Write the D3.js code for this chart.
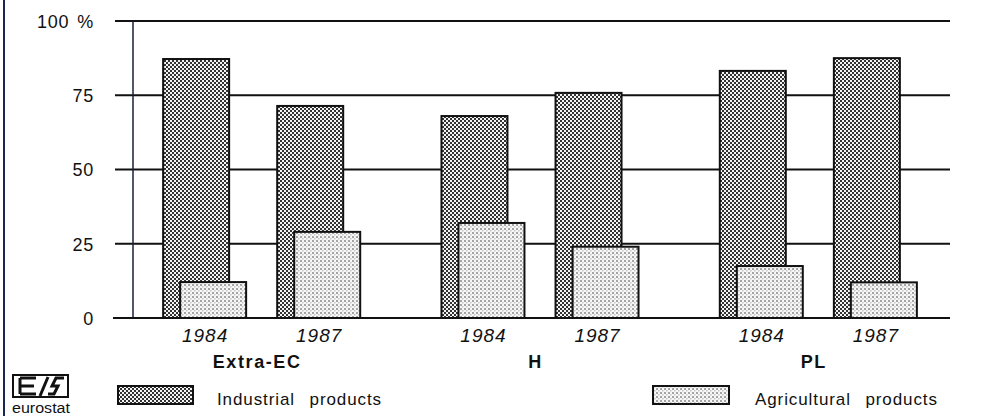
<!DOCTYPE html>
<html><head><meta charset="utf-8">
<script src="https://cdn.jsdelivr.net/npm/d3@7/dist/d3.min.js"></script>
<style>body{margin:0;background:#fff}svg{display:block}</style>
</head><body><svg id="c" width="987" height="416"></svg>
<script>
const groups = ["Extra-EC", "H", "PL"];
const years = ["1984", "1987"];
const industrial = [[87.2, 71.4], [68.0, 75.8], [83.2, 87.5]];
const agricultural = [[12.1, 29.0], [32.0, 24.0], [17.5, 12.0]];
const yTicks = [0, 25, 50, 75, 100];
const yTickLabels = ["0", "25", "50", "75", "100 %"];
const seriesNames = ["Industrial products", "Agricultural products"];

const svg = d3.select("#c");
const defs = svg.append("defs");
const p1 = defs.append("pattern").attr("id","pInd").attr("patternUnits","userSpaceOnUse").attr("width",4).attr("height",4);
p1.append("rect").attr("width",4).attr("height",4).attr("fill","#f4f4f4");
p1.append("rect").attr("x",0).attr("y",0).attr("width",2).attr("height",2).attr("fill","#333");
p1.append("rect").attr("x",2).attr("y",2).attr("width",2).attr("height",2).attr("fill","#333");
const p2 = defs.append("pattern").attr("id","pAgr").attr("patternUnits","userSpaceOnUse").attr("width",4).attr("height",4);
p2.append("rect").attr("width",4).attr("height",4).attr("fill","#f7f7f7");
p2.append("rect").attr("x",0).attr("y",0).attr("width",2).attr("height",2).attr("fill","#a4a4a4");
p2.append("rect").attr("x",2).attr("y",2).attr("width",1.5).attr("height",1.5).attr("fill","#c4c4c4");

const y = d3.scaleLinear().domain([0,100]).range([318,21]);
const x0 = d3.scaleBand().domain(groups).range([122,957]);
const x1 = d3.scalePoint().domain(years).range([0,x0.bandwidth()]).padding(0.72);

svg.append("line").attr("x1",4).attr("x2",4).attr("y1",0).attr("y2",416).attr("stroke","#1c2450").attr("stroke-width",2);

const font = "'Liberation Sans', Arial, Helvetica, sans-serif";
const yAxis = d3.axisLeft(y).tickValues(yTicks).tickFormat((d,i)=>yTickLabels[i]).tickSize(0);
svg.append("g").selectAll("line").data(yTicks).join("line")
  .attr("x1",115).attr("x2",950).attr("y1",d=>y(d)).attr("y2",d=>y(d))
  .attr("stroke","#111").attr("stroke-width",2);
svg.append("line").attr("x1",133).attr("x2",133).attr("y1",y(100)).attr("y2",y(0)).attr("stroke","#1a1f3a").attr("stroke-width",1.5);
const ga = svg.append("g").attr("transform","translate(97,0)").call(yAxis);
ga.select(".domain").remove();
ga.selectAll("text").attr("font-family",font).attr("font-size",18).attr("fill","#111")
  .attr("letter-spacing",0.8).attr("word-spacing",2).attr("dy","0.36em");

const data = [];
groups.forEach((g,gi)=>years.forEach((yr,yi)=>data.push({g,yr,ind:industrial[gi][yi],agr:agricultural[gi][yi]})));
const cx = d => x0(d.g) + x1(d.yr);
const bw = 66;

const bars = svg.append("g");
bars.selectAll("rect.ind").data(data).join("rect").attr("class","ind")
  .attr("x",d=>cx(d)-41).attr("width",bw)
  .attr("y",d=>y(d.ind)).attr("height",d=>y(0)-y(d.ind))
  .attr("fill","url(#pInd)").attr("stroke","#111").attr("stroke-width",2);
bars.selectAll("rect.agr").data(data).join("rect").attr("class","agr")
  .attr("x",d=>cx(d)-24).attr("width",bw)
  .attr("y",d=>y(d.agr)).attr("height",d=>y(0)-y(d.agr))
  .attr("fill","url(#pAgr)").attr("stroke","#111").attr("stroke-width",2);
svg.append("line").attr("x1",113).attr("x2",950).attr("y1",y(0)).attr("y2",y(0)).attr("stroke","#111").attr("stroke-width",2);

svg.append("g").selectAll("text").data(data).join("text")
  .attr("x",d=>cx(d)+1).attr("y",342).attr("text-anchor","middle")
  .attr("font-family",font).attr("font-size",19).attr("font-style","italic").attr("fill","#111")
  .attr("letter-spacing",1)
  .text(d=>d.yr);
svg.append("g").selectAll("text").data(groups).join("text")
  .attr("x",d=>x0(d)+x0.bandwidth()/2-4).attr("y",368).attr("text-anchor","middle")
  .attr("font-family",font).attr("font-size",18).attr("font-weight","bold").attr("fill","#111")
  .attr("letter-spacing",1.6)
  .text(d=>d);

const leg = [{x:118,w:75,tx:217,fill:"url(#pInd)"},{x:653,w:76,tx:755,fill:"url(#pAgr)"}];
leg.forEach((l,i)=>{
  svg.append("rect").attr("x",l.x).attr("y",386).attr("width",l.w).attr("height",18)
    .attr("fill",l.fill).attr("stroke","#111").attr("stroke-width",2);
  svg.append("text").attr("x",l.tx).attr("y",405).attr("font-family",font).attr("font-size",17)
    .attr("fill","#111").attr("letter-spacing",0.9).attr("word-spacing",9).text(seriesNames[i]);
});

const lg = svg.append("g");
lg.append("rect").attr("x",13).attr("y",375).attr("width",55).attr("height",22).attr("fill","#fff").attr("stroke","#111").attr("stroke-width",2);
lg.append("path").attr("d","M20,378 L36,378 M20,386 L34,386 M20,394 L36,394 M20,378 L20,394").attr("stroke","#111").attr("stroke-width",3).attr("fill","none");
lg.append("path").attr("d","M40,396 L48,377").attr("stroke","#111").attr("stroke-width",3).attr("fill","none");
lg.append("path").attr("d","M64,378 L56,378 L52,386 L58,386 L54,394 L48,394").attr("stroke","#111").attr("stroke-width",3).attr("fill","none");
lg.append("text").attr("x",12).attr("y",413).attr("font-family",font).attr("font-size",14).attr("fill","#111").attr("textLength",58).attr("lengthAdjust","spacingAndGlyphs").text("eurostat");
</script></body></html>
